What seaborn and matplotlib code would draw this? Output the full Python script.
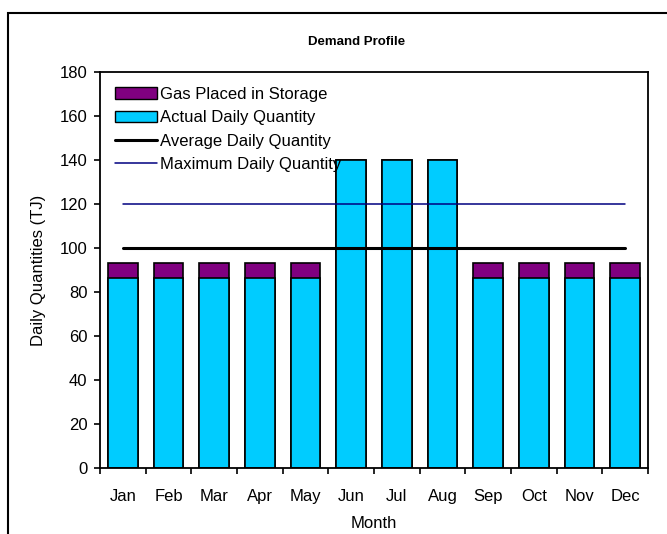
import numpy as np
import pandas as pd
import matplotlib
matplotlib.use("Agg")
import matplotlib.pyplot as plt
import seaborn as sns
from matplotlib.patches import Patch, Rectangle
from matplotlib.lines import Line2D

months = ["Jan", "Feb", "Mar", "Apr", "May", "Jun", "Jul", "Aug", "Sep", "Oct", "Nov", "Dec"]
actual = [86.5, 86.5, 86.5, 86.5, 86.5, 140, 140, 140, 86.5, 86.5, 86.5, 86.5]
storage = [6.8, 6.8, 6.8, 6.8, 6.8, 0, 0, 0, 6.8, 6.8, 6.8, 6.8]
average = [100] * 12
maximum = [120] * 12

df = pd.DataFrame({"month": months, "actual": actual, "storage": storage})
df["total"] = df["actual"] + df["storage"]

sns.set_style("white")
plt.rcParams["font.family"] = ["Liberation Sans", "DejaVu Sans"]
plt.rcParams["text.color"] = "black"
plt.rcParams["axes.labelcolor"] = "black"
plt.rcParams["xtick.color"] = "black"
plt.rcParams["ytick.color"] = "black"

fig = plt.figure(figsize=(6.67, 5.34), dpi=100)
ax = fig.add_axes([0.15, 0.1236, 0.8215, 0.7416])

# stacked bars: draw total (purple) then actual (cyan) over it
sns.barplot(data=df, x="month", y="total", color="#800080", edgecolor="black",
            linewidth=1.2, width=0.65, saturation=1, ax=ax)
sns.barplot(data=df, x="month", y="actual", color="#00CCFF", edgecolor="black",
            linewidth=1.2, width=0.65, saturation=1, ax=ax)

pos = np.arange(len(months))
ax.plot(pos, average, color="black", lw=2.2)
ax.plot(pos, maximum, color="#000080", lw=1.1)

ax.set_xlim(-0.5, len(months) - 0.5)
ax.set_ylim(0, 180)
ax.set_yticks(range(0, 181, 20))
ax.set_xticks(pos)
ax.set_xticklabels(months)
ax.set_xticks(np.arange(-0.5, len(months)), minor=True)
ax.tick_params(axis="x", which="major", length=0, pad=15, labelsize=12)
ax.tick_params(axis="x", which="minor", direction="out", length=4, width=1.2, bottom=True)
ax.tick_params(axis="y", direction="out", length=4, width=1.2, pad=5, left=True, labelsize=12)
for s in ax.spines.values():
    s.set_linewidth(1.3)
    s.set_color("black")

ax.set_xlabel("Month", fontsize=12, labelpad=9)
ax.set_ylabel("Daily Quantities (TJ)", fontsize=12, labelpad=10)
fig.text(0.535, 0.922, "Demand Profile", ha="center", va="center",
         fontsize=9.5, fontweight="bold")

handles = [
    Patch(facecolor="#800080", edgecolor="black", label="Gas Placed in Storage"),
    Patch(facecolor="#00CCFF", edgecolor="black", label="Actual Daily Quantity"),
    Line2D([], [], color="black", lw=2.2, label="Average Daily Quantity"),
    Line2D([], [], color="#000080", lw=1.1, label="Maximum Daily Quantity"),
]
ax.legend(handles=handles, loc="upper left", bbox_to_anchor=(0.0, 1.0),
          frameon=False, fontsize=12, handlelength=2.5,
          handletextpad=0.2, labelspacing=0.5, borderaxespad=0.5)

fig.patches.append(Rectangle((0.012, -0.1), 1.2, 1.0757, transform=fig.transFigure,
                             fill=False, edgecolor="black", lw=1.5))

fig.savefig("out.png", dpi=100)
